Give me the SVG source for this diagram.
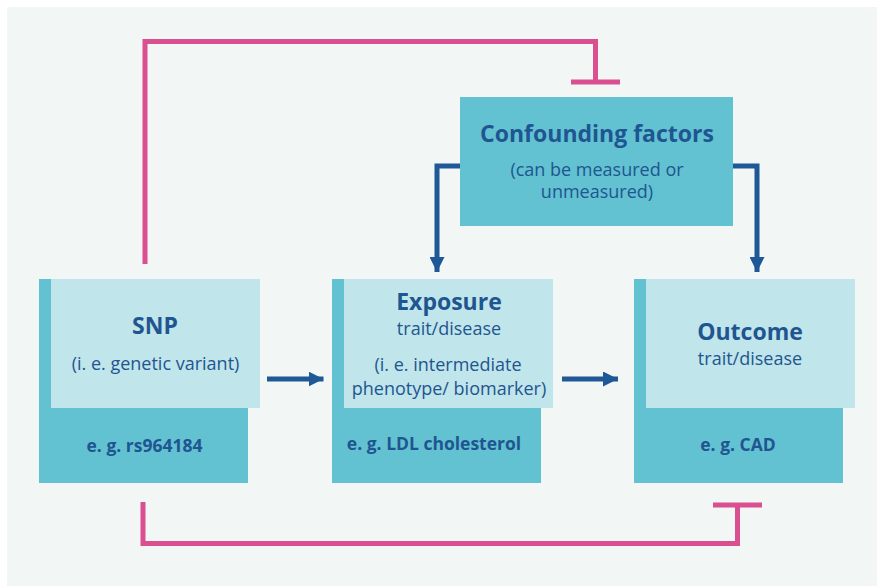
<svg xmlns="http://www.w3.org/2000/svg" width="877" height="586" viewBox="0 0 877 586">
<defs>
<style>
.bg{fill:#F2F6F5}
.dark{fill:#62C2D1}
.light{fill:#C0E5EA}
.t{font-family:"Open Sans",Lato,"Liberation Sans",sans-serif;fill:#1F5590;text-anchor:middle}
.h{font-weight:bold;font-size:23px}
.s{font-size:18px}
.b{font-weight:bold;font-size:17.5px}
.pink{fill:none;stroke:#DA4F8F;stroke-width:5}
.blue{fill:none;stroke:#1E5897;stroke-width:5}
</style>
<marker id="ah" markerWidth="15" markerHeight="15" refX="15" refY="7.5" orient="auto" markerUnits="userSpaceOnUse">
<path d="M0,0 L15,7.5 L0,15 Z" fill="#1E5897"/>
</marker>
</defs>
<rect class="bg" x="7" y="7" width="870" height="579"/>

<g id="confounders">
<rect class="dark" x="460" y="97" width="273" height="129"/>
<text class="t h" x="597" y="142">Confounding factors</text>
<text class="t s" x="597" y="176">(can be measured or</text>
<text class="t s" x="597" y="198">unmeasured)</text>
</g>

<g id="snp">
<rect class="dark" x="39" y="279" width="209" height="204"/>
<rect class="light" x="51" y="279" width="209" height="129"/>
<text class="t h" x="155" y="334">SNP</text>
<text class="t s" x="155.5" y="370">(i. e. genetic variant)</text>
<text class="t b" x="144.5" y="452">e. g. rs964184</text>
</g>

<g id="exposure">
<rect class="dark" x="332" y="279" width="209" height="204"/>
<rect class="light" x="344" y="279" width="209" height="129"/>
<text class="t h" x="449" y="310">Exposure</text>
<text class="t s" x="449" y="335">trait/disease</text>
<text class="t s" x="448" y="370.5">(i. e. intermediate</text>
<text class="t s" x="449" y="395">phenotype/ biomarker)</text>
<text class="t b" x="434" y="450">e. g. LDL cholesterol</text>
</g>

<g id="outcome">
<rect class="dark" x="634" y="279" width="209" height="204"/>
<rect class="light" x="646" y="279" width="209" height="129"/>
<text class="t h" x="750" y="340">Outcome</text>
<text class="t s" x="750" y="365">trait/disease</text>
<text class="t b" x="738" y="451">e. g. CAD</text>
</g>

<g id="connectors">
<path class="pink" d="M145,264 V41.5 H595.5 V82"/>
<path class="pink" d="M571,82 H620"/>
<path class="pink" d="M143,502 V543.5 H737.5 V505"/>
<path class="pink" d="M713,505 H762"/>
<path class="blue" d="M460,166 H437 V272" marker-end="url(#ah)"/>
<path class="blue" d="M733,166 H757 V272" marker-end="url(#ah)"/>
<path class="blue" d="M267,379 H323.5" marker-end="url(#ah)"/>
<path class="blue" d="M562,379 H618" marker-end="url(#ah)"/>
</g>
</svg>
